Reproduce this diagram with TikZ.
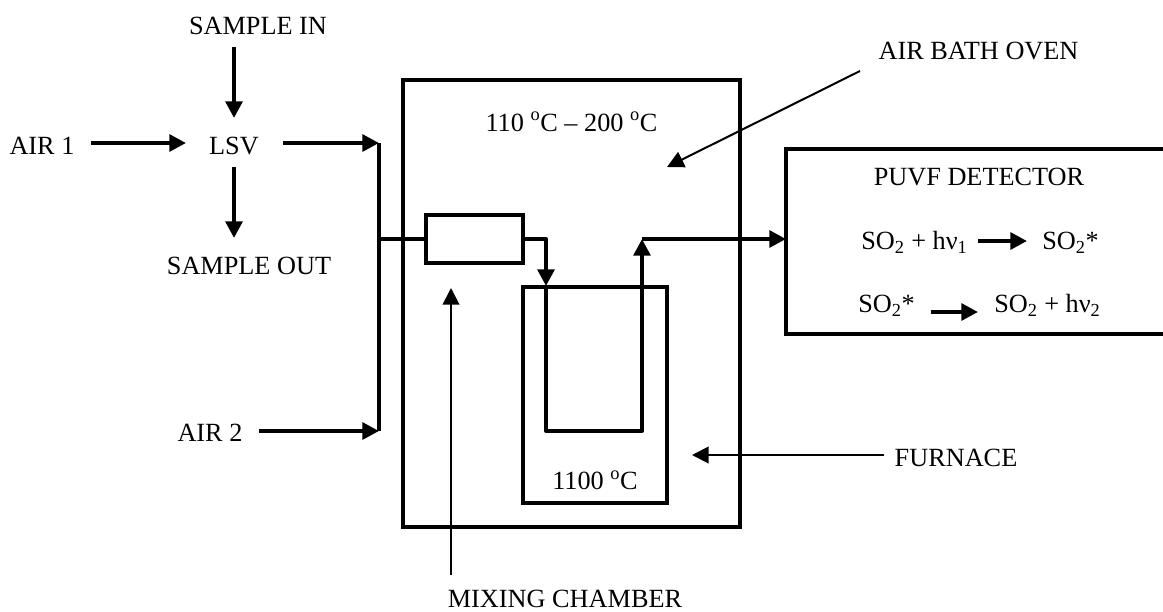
\documentclass[tikz,border=0pt]{standalone}
\usepackage{fontspec}
\setmainfont{Liberation Serif}
\usetikzlibrary{arrows.meta}
\tikzset{
  x=0.75pt,y=-0.75pt,
  lbl/.style={inner sep=0pt,font=\fontsize{19.7pt}{22pt}\selectfont,anchor=base},
  boxline/.style={draw=black,line width=3pt,inner sep=0pt,outer sep=0pt,anchor=north west},
  pipe/.style={draw=black,line width=3pt,line join=round},
  flow/.style={pipe,-{Triangle[length=12.5pt,width=12.5pt]}},
  pointer/.style={draw=black,line width=1.5pt,-{Triangle[length=12.5pt,width=12.5pt]}}
}
\begin{document}
\begin{tikzpicture}
\useasboundingbox (0,0) rectangle (1163,611);
% boxes
\node[boxline,minimum width=252.75pt,minimum height=335.25pt] (oven) at (402.5,80) {};
\node[boxline,minimum width=73pt,minimum height=36pt] (mix) at (426,215) {};
\node[boxline,minimum width=108pt,minimum height=162pt] (furn) at (522.7,287.3) {};
\node[boxline,minimum width=295pt,minimum height=138.75pt] (det) at (786,149) {};
% labels
\node[lbl] (sin) at (258,34) {SAMPLE IN};
\node[lbl] (air1) at (42,154) {AIR 1};
\node[lbl] (lsv) at (234,154) {LSV};
\node[lbl] (sout) at (249,274) {SAMPLE OUT};
\node[lbl] (air2) at (210,441) {AIR 2};
\node[lbl] (mc) at (565,607) {MIXING CHAMBER};
\node[lbl] (abo) at (978.5,59) {AIR BATH OVEN};
\node[lbl] (fu) at (956,466) {FURNACE};
\node[lbl] (t1) at (571.5,131) {110 \textsuperscript{o}C -- 200 \textsuperscript{o}C};
\node[lbl] (t2) at (595,489.5) {1100 \textsuperscript{o}C};
\node[lbl] (pd) at (979,185) {PUVF DETECTOR};
\node[lbl,anchor=base west] (r1a) at (861,249) {SO\textsubscript{2} + hν\textsubscript{1}};
\node[lbl,anchor=base west] (r1b) at (1042,249) {SO\textsubscript{2}*};
\node[lbl,anchor=base west] (r2a) at (858,312) {SO\textsubscript{2}*};
\node[lbl,anchor=base west] (r2b) at (994,312) {SO\textsubscript{2} + hν\textsubscript{2}};
% connector ends
\coordinate (a) at (234,47); \coordinate (b) at (234,118);
\coordinate (c) at (234,167); \coordinate (d) at (234,238);
\coordinate (e) at (91,143); \coordinate (f) at (186,143);
\coordinate (g) at (283,143); \coordinate (h) at (379,143);
\coordinate (i) at (259,431); \coordinate (j) at (379,431);
\coordinate (k) at (379,239);
\coordinate (m) at (546,239); \coordinate (n) at (546,286);
\coordinate (o) at (546,431); \coordinate (p) at (642,431);
\coordinate (q) at (642,239); \coordinate (r) at (786,239);
\coordinate (s) at (451,575); \coordinate (t) at (451,288);
\coordinate (u) at (860,71); \coordinate (v) at (667,167);
\coordinate (w) at (884,455); \coordinate (x) at (692,455);
\coordinate (r1s) at (978,241); \coordinate (r1e) at (1027,241);
\coordinate (r2s) at (931,312); \coordinate (r2e) at (978,312);
% connectors
\draw[flow] (a) -- (b);
\draw[flow] (c) -- (d);
\draw[flow] (e) -- (f);
\draw[flow] (g) -- (h);
\draw[flow] (i) -- (j);
\draw[pipe] (h) -- (j);
\draw[pipe] (k) -- (mix.west);
\draw[flow] (mix.east) -- (m) -- (n);
\draw[flow] (n) -- (o) -- (p) -- (q);
\draw[flow] (q) -- (r);
\draw[pointer] (s) -- (t);
\draw[pointer] (u) -- (v);
\draw[pointer] (w) -- (x);
\draw[flow] (r1s) -- (r1e);
\draw[flow] (r2s) -- (r2e);
\end{tikzpicture}
\end{document}
